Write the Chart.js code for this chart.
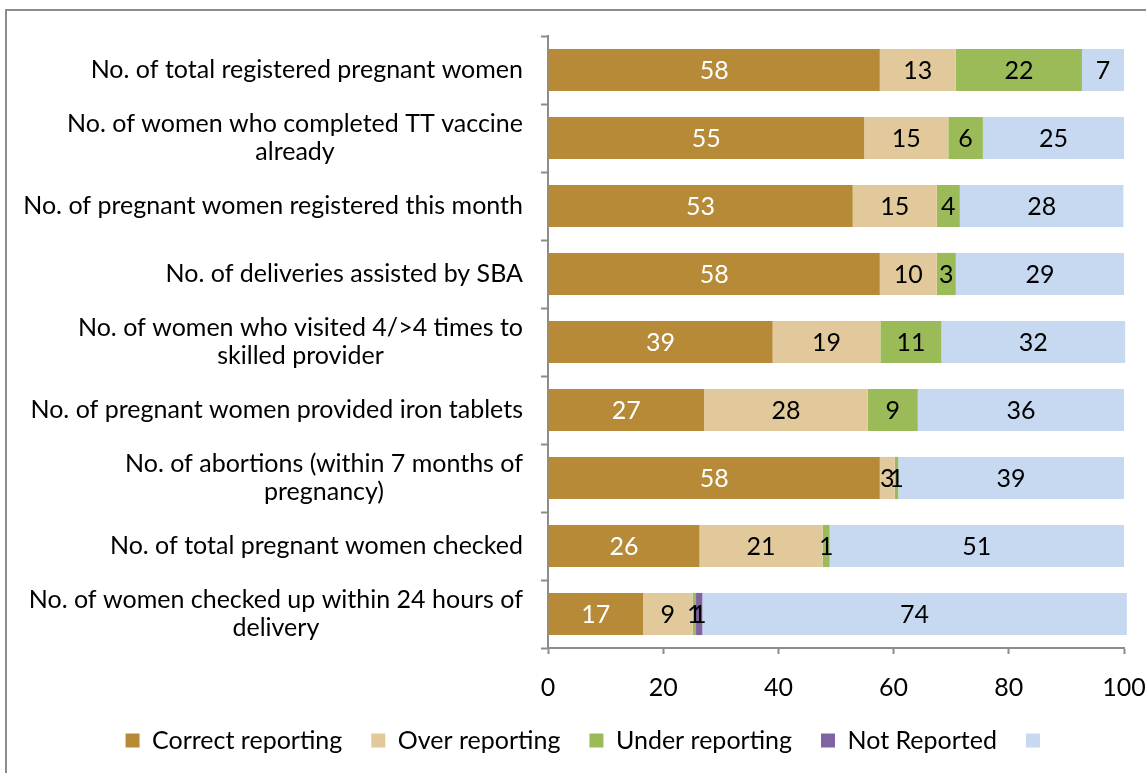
<!DOCTYPE html>
<html>
<head>
<meta charset="utf-8">
<title>Reporting accuracy</title>
<script src="https://cdn.jsdelivr.net/npm/chart.js@4.4.0/dist/chart.umd.min.js"></script>
<style>
    html, body { margin: 0; padding: 0; background: #fff; }
    #wrap { position: relative; width: 1146px; height: 773px; overflow: hidden; }
    #frame { position: absolute; left: 5px; top: 9px; width: 1200px; height: 800px; border: 2px solid #8c8c8c; }
    #reportChart { position: absolute; left: 0; top: 0; }
</style>
</head>
<body>
<div id="wrap">
    <div id="frame"></div>
    <canvas id="reportChart" width="1146" height="773"></canvas>
</div>
<script>
const categories = [
    'No. of total registered pregnant women',
    ['No. of women who completed TT vaccine', 'already'],
    'No. of pregnant women registered this month',
    'No. of deliveries assisted by SBA',
    ['No. of women who visited 4/>4 times to', 'skilled provider'],
    'No. of pregnant women provided iron tablets',
    ['No. of abortions (within 7 months of', 'pregnancy)'],
    'No. of total pregnant women checked',
    ['No. of women checked up within 24 hours of', 'delivery']
];

const correctReporting = [57.6, 54.9, 52.9, 57.6, 39.0, 27.1, 57.6, 26.3, 16.5];
const overReporting    = [13.2, 14.6, 14.6,  9.9, 18.7, 28.4,  2.6, 21.4,  8.6];
const underReporting   = [21.9,  6.0,  4.0,  3.3, 10.6,  8.7,  0.6,  1.2,  0.6];
const notReported      = [   0,    0,    0,    0,    0,    0,    0,    0,  1.1];
const blankSeries      = [ 7.3, 24.5, 28.4, 29.2, 31.9, 35.8, 39.2, 51.1, 73.7];

const xTicks = [0, 20, 40, 60, 80, 100];

const FONT = 'Lato';
const FONT_SIZE = 25;

document.addEventListener('DOMContentLoaded', function () {

    // numbers in the middle of each piece of the bar
    const segmentLabels = {
        id: 'segmentLabels',
        afterDatasetsDraw(chart) {
            const ctx = chart.ctx;
            ctx.save();
            ctx.font = FONT_SIZE + 'px ' + FONT;
            ctx.textAlign = 'center';
            ctx.textBaseline = 'middle';
            chart.data.datasets.forEach((ds, i) => {
                const meta = chart.getDatasetMeta(i);
                meta.data.forEach((bar, j) => {
                    const v = ds.data[j];
                    if (!v) return;
                    ctx.fillStyle = i === 0 ? '#ffffff' : '#000000';
                    ctx.fillText(Math.round(v), (bar.x + bar.base) / 2, bar.y + 1);
                });
            });
            ctx.restore();
        }
    };

    // category names: block right aligned, lines centred inside the block
    const categoryLabels = {
        id: 'categoryLabels',
        afterDraw(chart) {
            const yScale = chart.scales.y;
            const ctx = chart.ctx;
            const lineH = 28;
            ctx.save();
            ctx.font = FONT_SIZE + 'px ' + FONT;
            ctx.fillStyle = '#000000';
            ctx.textAlign = 'center';
            ctx.textBaseline = 'middle';
            const right = yScale.right - 25;
            categories.forEach((label, i) => {
                const lines = Array.isArray(label) ? label : [label];
                const w = Math.max(...lines.map(l => ctx.measureText(l).width));
                const cx = right - w / 2;
                const y0 = yScale.getPixelForValue(i) - (lines.length - 1) * lineH / 2;
                lines.forEach((l, k) => ctx.fillText(l, cx, y0 + k * lineH));
            });
            ctx.restore();
        }
    };

    function renderChart() {
        const ctx = document.getElementById('reportChart').getContext('2d');
        new Chart(ctx, {
            type: 'bar',
            data: {
                labels: categories,
                datasets: [
                    { label: 'Correct reporting', data: correctReporting, backgroundColor: '#B68A37' },
                    { label: 'Over reporting', data: overReporting, backgroundColor: '#E1C99C' },
                    { label: 'Under reporting', data: underReporting, backgroundColor: '#9BBB59' },
                    { label: 'Not Reported', data: notReported, backgroundColor: '#8064A2' },
                    { label: '', data: blankSeries, backgroundColor: '#C6D9F1' }
                ]
            },
            options: {
                indexAxis: 'y',
                responsive: false,
                animation: false,
                barPercentage: 0.62,
                categoryPercentage: 1,
                datasets: { bar: { clip: false } },
                layout: {
                    padding: { top: 36, right: 22, bottom: 10, left: 54 }
                },
                scales: {
                    x: {
                        stacked: true,
                        min: 0,
                        max: 100,
                        afterBuildTicks: function (scale) {
                            scale.ticks = xTicks.map(v => ({ value: v }));
                        },
                        afterFit: function (scale) {
                            scale.height = 51;
                            scale.paddingLeft = 0;
                            scale.paddingRight = 0;
                        },
                        ticks: {
                            color: '#000',
                            padding: 19,
                            font: { family: FONT, size: FONT_SIZE }
                        },
                        grid: {
                            drawOnChartArea: false,
                            tickLength: 6,
                            tickWidth: 2,
                            color: '#8c8c8c'
                        },
                        border: { color: '#8c8c8c', width: 2 }
                    },
                    y: {
                        stacked: true,
                        afterFit: function (scale) {
                            scale.width = 494;
                        },
                        ticks: { display: false },
                        grid: {
                            drawOnChartArea: false,
                            offset: true,
                            tickLength: 7,
                            tickWidth: 2,
                            color: '#8c8c8c'
                        },
                        border: { color: '#8c8c8c', width: 2 }
                    }
                },
                plugins: {
                    tooltip: { enabled: false },
                    legend: {
                        position: 'bottom',
                        labels: {
                            color: '#000',
                            boxWidth: 14,
                            boxHeight: 14,
                            padding: 29,
                            font: { family: FONT, size: FONT_SIZE }
                        }
                    }
                }
            },
            plugins: [segmentLabels, categoryLabels]
        });
    }

    renderChart();
});
</script>
</body>
</html>
